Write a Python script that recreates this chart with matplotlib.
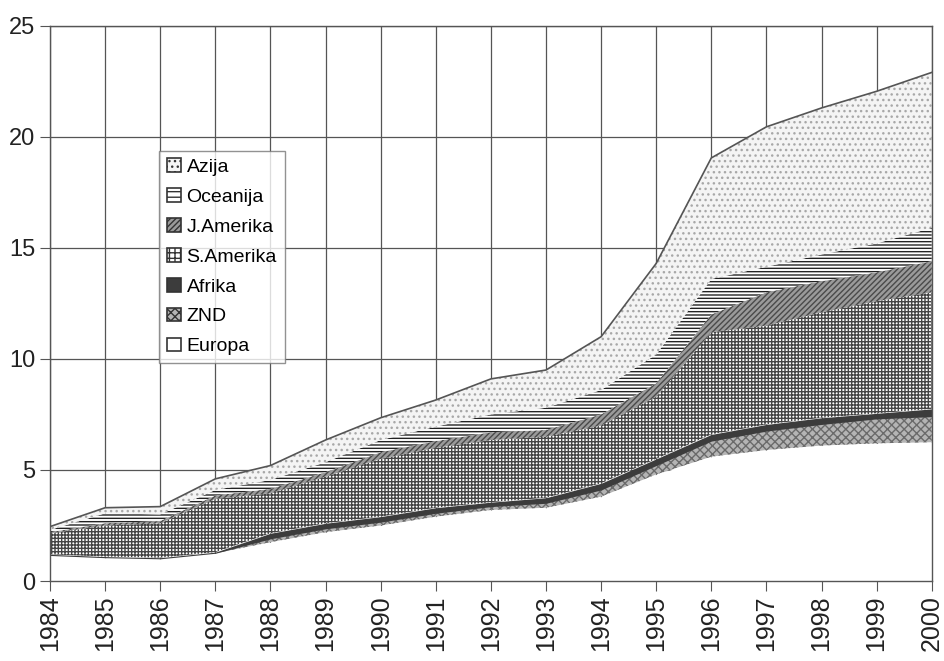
import matplotlib
matplotlib.use("Agg")
import matplotlib.pyplot as plt
from matplotlib.patches import Patch
import numpy as np

plt.rcParams["font.family"] = ["Liberation Sans", "DejaVu Sans"]
plt.rcParams["hatch.linewidth"] = 1.0

years = list(range(1984, 2001))

# values per region, bottom of the stack first
europa = [1.15, 1.05, 1.0, 1.25, 1.75, 2.2, 2.5, 2.9, 3.2, 3.3, 3.8, 4.8, 5.6, 5.9, 6.1, 6.2, 6.25]
znd = [0, 0, 0, 0, 0.15, 0.15, 0.15, 0.15, 0.15, 0.2, 0.3, 0.4, 0.7, 0.85, 0.95, 1.1, 1.15]
afrika = [0.05, 0.05, 0.05, 0.05, 0.25, 0.25, 0.25, 0.25, 0.2, 0.25, 0.3, 0.3, 0.3, 0.3, 0.3, 0.25, 0.35]
s_amerika = [0.95, 1.4, 1.55, 2.4, 1.8, 2.1, 2.6, 2.7, 2.8, 2.75, 2.6, 2.8, 4.6, 4.45, 4.75, 5.05, 5.25]
j_amerika = [0.05, 0.1, 0.1, 0.15, 0.2, 0.2, 0.3, 0.3, 0.35, 0.3, 0.5, 0.6, 0.8, 1.5, 1.4, 1.3, 1.4]
oceanija = [0.1, 0.45, 0.3, 0.25, 0.4, 0.45, 0.55, 0.65, 0.8, 1.0, 1.1, 1.3, 1.6, 1.15, 1.2, 1.3, 1.5]
azija = [0.15, 0.25, 0.35, 0.5, 0.65, 1.0, 1.0, 1.2, 1.6, 1.7, 2.4, 4.1, 5.45, 6.3, 6.6, 6.85, 7.0]

labels = ["Europa", "ZND", "Afrika", "S.Amerika", "J.Amerika", "Oceanija", "Azija"]
series = [europa, znd, afrika, s_amerika, j_amerika, oceanija, azija]

# (facecolor, hatch colour, hatch)
styles = [
    ("white", "#888888", None),
    ("#b4b4b4", "#6a6a6a", "xxxx"),
    ("#3c3c3c", "#3c3c3c", None),
    ("white", "#444444", "+++++"),
    ("#9a9a9a", "#4a4a4a", "//////"),
    ("white", "#222222", "-----"),
    ("#f4f4f4", "#a8a8a8", "..."),
]

fig = plt.figure(figsize=(9.44, 6.61), dpi=100)
ax = fig.add_axes([0.053, 0.121, 0.934, 0.840])

x = np.array(years)
base = np.zeros(len(years))
handles = []
for vals, lab, (fc, hc, hatch) in zip(series, labels, styles):
    top = base + np.array(vals)
    ax.fill_between(x, base, top, facecolor=fc, edgecolor=hc, hatch=hatch,
                    linewidth=0, zorder=2)
    # legend swatch with a dark outline, as in the original
    legend_hatch = hatch.replace("+++++", "+++").replace("-----", "---") if hatch else None
    handles.append(Patch(facecolor=fc, edgecolor="#333333", hatch=legend_hatch,
                         linewidth=1.2, label=lab))
    base = top

ax.plot(x, base, color="#555555", lw=1.2, zorder=3)

ax.set_xlim(1984, 2000)
ax.set_ylim(0, 25)
ax.set_xticks(years)
ax.set_xticklabels([str(y) for y in years], rotation=90, fontsize=18, color="#222222")
ax.set_yticks([0, 5, 10, 15, 20, 25])
ax.tick_params(axis="y", labelsize=17, labelcolor="#222222", direction="out", length=7, color="#555555")
ax.tick_params(axis="x", direction="out", length=7, color="#555555")
ax.grid(True, color="#555555", lw=0.9)
ax.set_axisbelow(True)
for sp in ax.spines.values():
    sp.set_color("#555555")
    sp.set_linewidth(1.0)

leg = ax.legend(handles[::-1], labels[::-1], loc="upper left", bbox_to_anchor=(0.124, 0.775),
                fontsize=14, frameon=True, fancybox=False, edgecolor="#777777",
                handlelength=0.7, handleheight=0.7, handletextpad=0.3, labelspacing=0.63,
                borderpad=0.4, borderaxespad=0)
leg.get_frame().set_linewidth(1.0)
leg.set_zorder(5)

fig.savefig("out.png", dpi=100)
